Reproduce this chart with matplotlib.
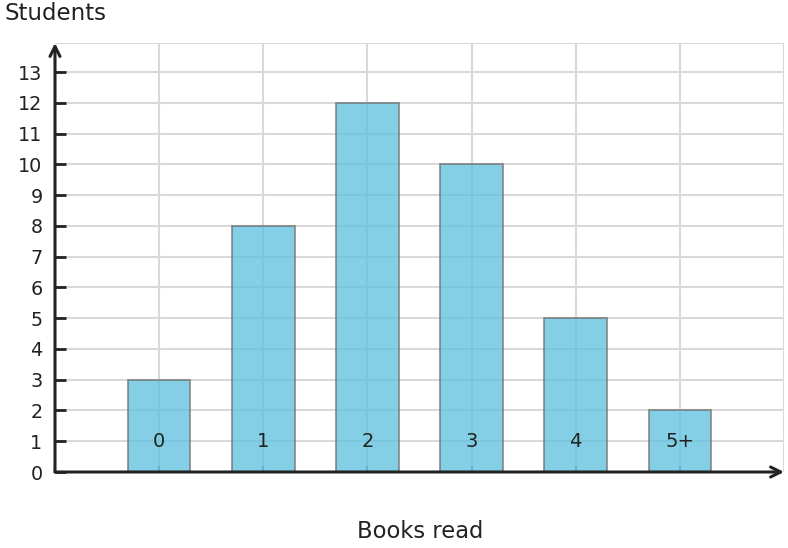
import numpy as np
import matplotlib.pyplot as plt

# datos
categorias = ['0', '1', '2', '3', '4', '5+']
estudiantes = [3, 8, 12, 10, 5, 2]
y_ticks = list(range(0, 14))

fig = plt.figure(figsize=(7.88, 5.48), dpi=100)
ax = fig.add_axes([55 / 788, 76 / 548, 729 / 788, 429 / 548])

x = np.arange(1, len(categorias) + 1)

# rejilla
for yv in y_ticks[1:]:
    ax.axhline(yv, color='#d9d9d9', lw=1.5, zorder=0)
ax.axhline(13.95, color='#d9d9d9', lw=1.5, zorder=0)
for xv in list(x) + [7]:
    ax.axvline(xv, color='#d9d9d9', lw=1.5, zorder=0)

ax.bar(x, estudiantes, width=0.6, color='#5bc0de', alpha=0.75,
       edgecolor='#6f6f6f', linewidth=1.3, zorder=2)

# etiquetas de categoria dentro de las barras
for xi, lab in zip(x, categorias):
    ax.text(xi, 1, lab, ha='center', va='center', fontsize=14,
            color='#222222', zorder=4)

ax.set_xlim(0, 7)
ax.set_ylim(0, 13.95)
ax.set_yticks(y_ticks)
ax.set_yticklabels([str(v) for v in y_ticks], fontsize=13.8, color='#222222')
ax.tick_params(axis='y', direction='in', length=8, width=2, color='#222222', pad=9)
ax.set_xticks(x)
ax.set_xticklabels([])
ax.tick_params(axis='x', direction='in', length=4, width=1.5, color='#6a9fb0')

for s in ['top', 'right', 'left', 'bottom']:
    ax.spines[s].set_visible(False)

# ejes con flechas
ax.annotate('', xy=(1.0, 0), xycoords='axes fraction', xytext=(0, 0),
            arrowprops=dict(arrowstyle='->', lw=2.2, color='#222222',
                            shrinkA=0, shrinkB=0, mutation_scale=18), zorder=5)
ax.annotate('', xy=(0, 1.0), xycoords='axes fraction', xytext=(0, 0),
            arrowprops=dict(arrowstyle='->', lw=2.2, color='#222222',
                            shrinkA=0, shrinkB=0, mutation_scale=18), zorder=5)

fig.text(4 / 788, 1 - 20 / 548, 'Students', ha='left', va='baseline',
         fontsize=16.5, color='#222222')
fig.text(420 / 788, 1 - 538 / 548, 'Books read', ha='center', va='baseline',
         fontsize=16.3, color='#222222')

fig.savefig('out.png', dpi=100)
